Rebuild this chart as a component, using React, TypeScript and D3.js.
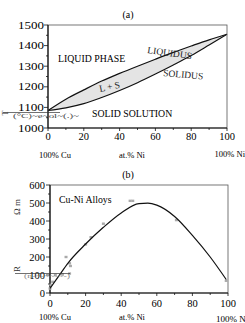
import React from "react";
import * as d3 from "d3";

const liquidusX = [0, 10, 20, 30, 40, 50, 60, 70, 80, 90, 100];
const liquidusT = [1085, 1140, 1185, 1228, 1265, 1300, 1334, 1367, 1398, 1428, 1455];
const solidusX = [0, 10, 20, 30, 40, 50, 60, 70, 80, 90, 100];
const solidusT = [1085, 1098, 1118, 1148, 1182, 1220, 1262, 1306, 1352, 1403, 1455];

const curveX = [0, 5, 10, 20, 30, 40, 50, 55, 60, 70, 80, 90, 99];
const curveR = [25, 95, 165, 272, 365, 445, 497, 499, 488, 425, 320, 200, 75];

const pointX = [0, 0.5, 1.5, 9, 11, 11.5, 20, 23, 30, 45, 46.5, 71, 99, 3, 7, 11];
const pointR = [25, 45, 62, 200, 165, 150, 270, 310, 385, 512, 512, 405, 68, 100, 103, 108];

const tTicks = [1000, 1100, 1200, 1300, 1400, 1500];
const rTicks = [0, 100, 200, 300, 400, 500, 600];
const xTicks = [0, 20, 40, 60, 80, 100];

const FONT = "'Liberation Serif', 'DejaVu Serif', serif";

export default function App() {
  const ax = d3.scaleLinear().domain([0, 100]).range([48, 227]);
  const ay = d3.scaleLinear().domain([1000, 1500]).range([128, 25]);
  const bx = d3.scaleLinear().domain([0, 100]).range([50, 228]);
  const by = d3.scaleLinear().domain([0, 600]).range([293, 185]);

  const liq = liquidusX.map((x, i) => [x, liquidusT[i]] as [number, number]);
  const sol = solidusX.map((x, i) => [x, solidusT[i]] as [number, number]);
  const lineA = d3.line<[number, number]>().x(d => ax(d[0])).y(d => ay(d[1])).curve(d3.curveMonotoneX);
  const lensPath = lineA(liq)! + "L" + lineA(sol.slice().reverse())!.slice(1) + "Z";

  const curve = curveX.map((x, i) => [x, curveR[i]] as [number, number]);
  const lineB = d3.line<[number, number]>().x(d => bx(d[0])).y(d => by(d[1])).curve(d3.curveMonotoneX);

  const minorA = d3.range(1000, 1501, 50);
  const minorAX = d3.range(0, 101, 10);
  const minorB = d3.range(0, 601, 50);
  const minorBX = d3.range(0, 101, 10);

  return (
    <svg width={245} height={323} style={{ position: "absolute", left: 0, top: 0, background: "#fff" }} fontFamily={FONT}>
      {/* ---- Chart (a) ---- */}
      <text x={128} y={18} fontSize={10} textAnchor="middle">(a)</text>
      <path d={lensPath} fill="#e4e4e4" stroke="none" />
      <path d={lineA(liq)!} fill="none" stroke="#111" strokeWidth={1.2} />
      <path d={lineA(sol)!} fill="none" stroke="#111" strokeWidth={1.2} />
      <rect x={ax(0)} y={ay(1500)} width={ax(100) - ax(0)} height={ay(1000) - ay(1500)} fill="none" stroke="#555" strokeWidth={0.8} />
      <line x1={ax(0)} x2={ax(0)} y1={ay(1500)} y2={ay(1000)} stroke="#111" strokeWidth={1.2} />
      <line x1={ax(0)} x2={ax(100)} y1={ay(1000)} y2={ay(1000)} stroke="#111" strokeWidth={1.2} />
      {minorA.map(v => (
        <line key={"ma" + v} x1={ax(0) - (v % 100 === 0 ? 4 : 2)} x2={ax(0)} y1={ay(v)} y2={ay(v)} stroke="#111" strokeWidth={0.8} />
      ))}
      {minorAX.map(v => (
        <line key={"mx" + v} x1={ax(v)} x2={ax(v)} y1={ay(1000)} y2={ay(1000) + (v % 20 === 0 ? 3 : 2)} stroke="#111" strokeWidth={0.8} />
      ))}
      {tTicks.map(v => (
        <text key={"ta" + v} x={ax(0) - 4} y={ay(v) + 3.5} fontSize={10.5} textAnchor="end" textLength={26} lengthAdjust="spacingAndGlyphs">{v}</text>
      ))}
      {xTicks.map(v => (
        <text key={"xa" + v} x={ax(v)} y={ay(1000) + 12} fontSize={10.5} textAnchor="middle">{v}</text>
      ))}
      <text x={55} y={158} fontSize={8.5} textAnchor="middle">100% Cu</text>
      <text x={132} y={158} fontSize={8.5} textAnchor="middle">at.% Ni</text>
      <text x={245} y={157} fontSize={8.5} textAnchor="end">100% Ni</text>
      <text x={58} y={62} fontSize={9.8}>LIQUID PHASE</text>
      <text x={0} y={0} fontSize={9.5} transform="translate(147,53) rotate(8)" fill="#222">LIQUIDUS</text>
      <text x={0} y={0} fontSize={9.5} transform="translate(163,76) rotate(5)" fill="#222">SOLIDUS</text>
      <text x={0} y={0} fontSize={9.5} transform="translate(100,92) rotate(-12)" fill="#222">L + S</text>
      <text x={92} y={117} fontSize={9.8}>SOLID SOLUTION</text>
      {/* garbled y label (a) */}
      <line x1={3} x2={60} y1={112.5} y2={112.5} stroke="#333" strokeWidth={0.7} />
      <text x={0} y={0} fontSize={8} transform="translate(8,113) rotate(-90)" textAnchor="middle" fill="#333">T</text>
      <text x={13} y={117.5} fontSize={6.5} fill="#444" textLength={66} lengthAdjust="spacingAndGlyphs">(°C)~e~ol~(.)~</text>

      {/* ---- Chart (b) ---- */}
      <text x={128} y={178} fontSize={10} textAnchor="middle">(b)</text>
      <rect x={bx(0)} y={by(600)} width={bx(100) - bx(0)} height={by(0) - by(600)} fill="none" stroke="#555" strokeWidth={0.8} />
      <line x1={bx(0)} x2={bx(0)} y1={by(600)} y2={by(0)} stroke="#111" strokeWidth={1.2} />
      <line x1={bx(0)} x2={bx(100)} y1={by(0)} y2={by(0)} stroke="#111" strokeWidth={1.2} />
      {minorB.map(v => (
        <line key={"mb" + v} x1={bx(0) - (v % 100 === 0 ? 4 : 2)} x2={bx(0)} y1={by(v)} y2={by(v)} stroke="#111" strokeWidth={0.8} />
      ))}
      {minorBX.map(v => (
        <line key={"mbx" + v} x1={bx(v)} x2={bx(v)} y1={by(0)} y2={by(0) + (v % 20 === 0 ? 3 : 2)} stroke="#111" strokeWidth={0.8} />
      ))}
      {rTicks.map(v => (
        <text key={"tb" + v} x={bx(0) - 5} y={by(v) + 3.5} fontSize={10.5} textAnchor="end">{v}</text>
      ))}
      {xTicks.map(v => (
        <text key={"xb" + v} x={bx(v)} y={by(0) + 14} fontSize={10.5} textAnchor="middle">{v}</text>
      ))}
      <text x={55} y={320} fontSize={8.5} textAnchor="middle">100% Cu</text>
      <text x={132} y={320} fontSize={8.5} textAnchor="middle">at.% Ni</text>
      <text x={216} y={322} fontSize={9}>100% Ni</text>
      <text x={59} y={203} fontSize={9.8}>Cu-Ni Alloys</text>
      {pointX.map((x, i) => (
        <rect key={"p" + i} x={bx(x) - 1.5} y={by(pointR[i]) - 1.2} width={3} height={2.4} fill="#aaa" />
      ))}
      <path d={lineB(curve)!} fill="none" stroke="#111" strokeWidth={1.2} />
      {/* garbled y label (b) */}
      <text x={0} y={0} fontSize={9} transform="translate(20,207) rotate(-90)" textAnchor="middle" fill="#333">Ω m</text>
      <text x={0} y={0} fontSize={9} transform="translate(20,269) rotate(-90)" textAnchor="middle" fill="#333">R</text>
      <line x1={15} x2={70} y1={273.5} y2={273.5} stroke="#333" strokeWidth={0.7} />
      <text x={24} y={278} fontSize={6} fill="#888" textLength={46} lengthAdjust="spacingAndGlyphs">(n-~-~~-~-)</text>
    </svg>
  );
}
